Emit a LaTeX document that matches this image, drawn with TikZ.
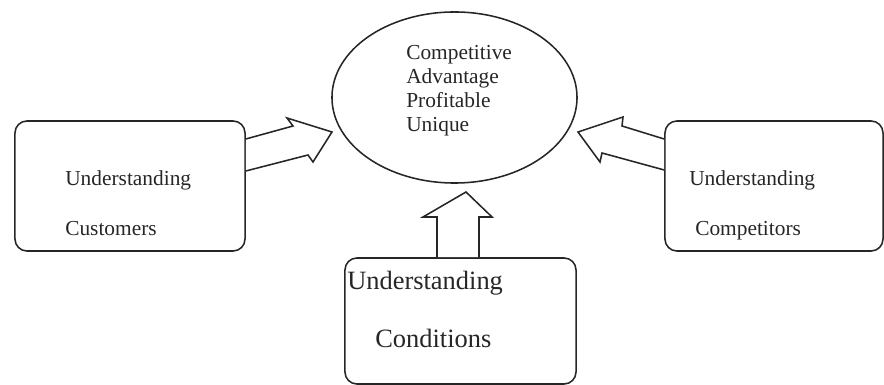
\documentclass[tikz,border=0pt]{standalone}
\usepackage{fontspec}
\setmainfont{Liberation Serif}
\usetikzlibrary{shapes, positioning, calc}

\begin{document}
\begin{tikzpicture}[x=0.025cm,y=-0.025cm,
        box/.style={draw=black!85, rounded corners=0.3cm, line width=1.1pt, inner sep=0pt},
        oval/.style={ellipse, draw=black!85, line width=1.1pt, inner sep=0pt},
        blockarrow/.style={draw=black!85, fill=white, line width=1.1pt, line join=miter},
        txt/.style={anchor=base west, inner sep=0pt, text=black!85, font=\fontsize{15.2}{18}\selectfont},
        bigtxt/.style={txt, font=\fontsize{18.8}{22}\selectfont}]
  \useasboundingbox (0,0) rectangle (884,385);

  % the goal in the middle
  \node[oval, minimum width=6.125cm, minimum height=4.275cm] (adv) at (454.5,97.5) {};
  \foreach \w [count=\i] in {Competitive, Advantage, Profitable, Unique}
    \node[txt] (adv\i) at (406,36+24*\i) {\w};

  % the three boxes
  \node[box, minimum width=5.75cm, minimum height=3.25cm] (cust) at (130,186) {};
  \node[box, minimum width=5.45cm, minimum height=3.25cm] (comp) at (774,186) {};
  \node[box, minimum width=5.775cm, minimum height=3.15cm] (cond) at (460.5,321) {};

  \node[txt] (cust1) at (65,186) {Understanding};
  \node[txt] (cust2) at (65,236) {Customers};
  \node[txt] (comp1) at (689,186) {Understanding};
  \node[txt] (comp2) at (695,236) {Competitors};
  \node[bigtxt] (cond1) at (347,290) {Understanding};
  \node[bigtxt] (cond2) at (375,348) {Conditions};

  % block arrows into the oval
  \draw[blockarrow] ($(cust.east)+(0,-47)$) -- (293,126) -- (287,118) -- (332,132)
        -- (313,162) -- (308,155) -- ($(cust.east)+(0,-15)$);
  \draw[blockarrow] ($(comp.west)+(0,-47)$) -- (622,126) -- (623,117) -- (578,132)
        -- (600,162) -- (602,153) -- ($(comp.west)+(0,-16)$);
  \draw[blockarrow] ($(cond.north)+(-23.5,0)$) -- (437,217) -- (423,217) -- (466,192)
        -- (492,217) -- (479,217) -- ($(cond.north)+(18.5,0)$);
\end{tikzpicture}
\end{document}
